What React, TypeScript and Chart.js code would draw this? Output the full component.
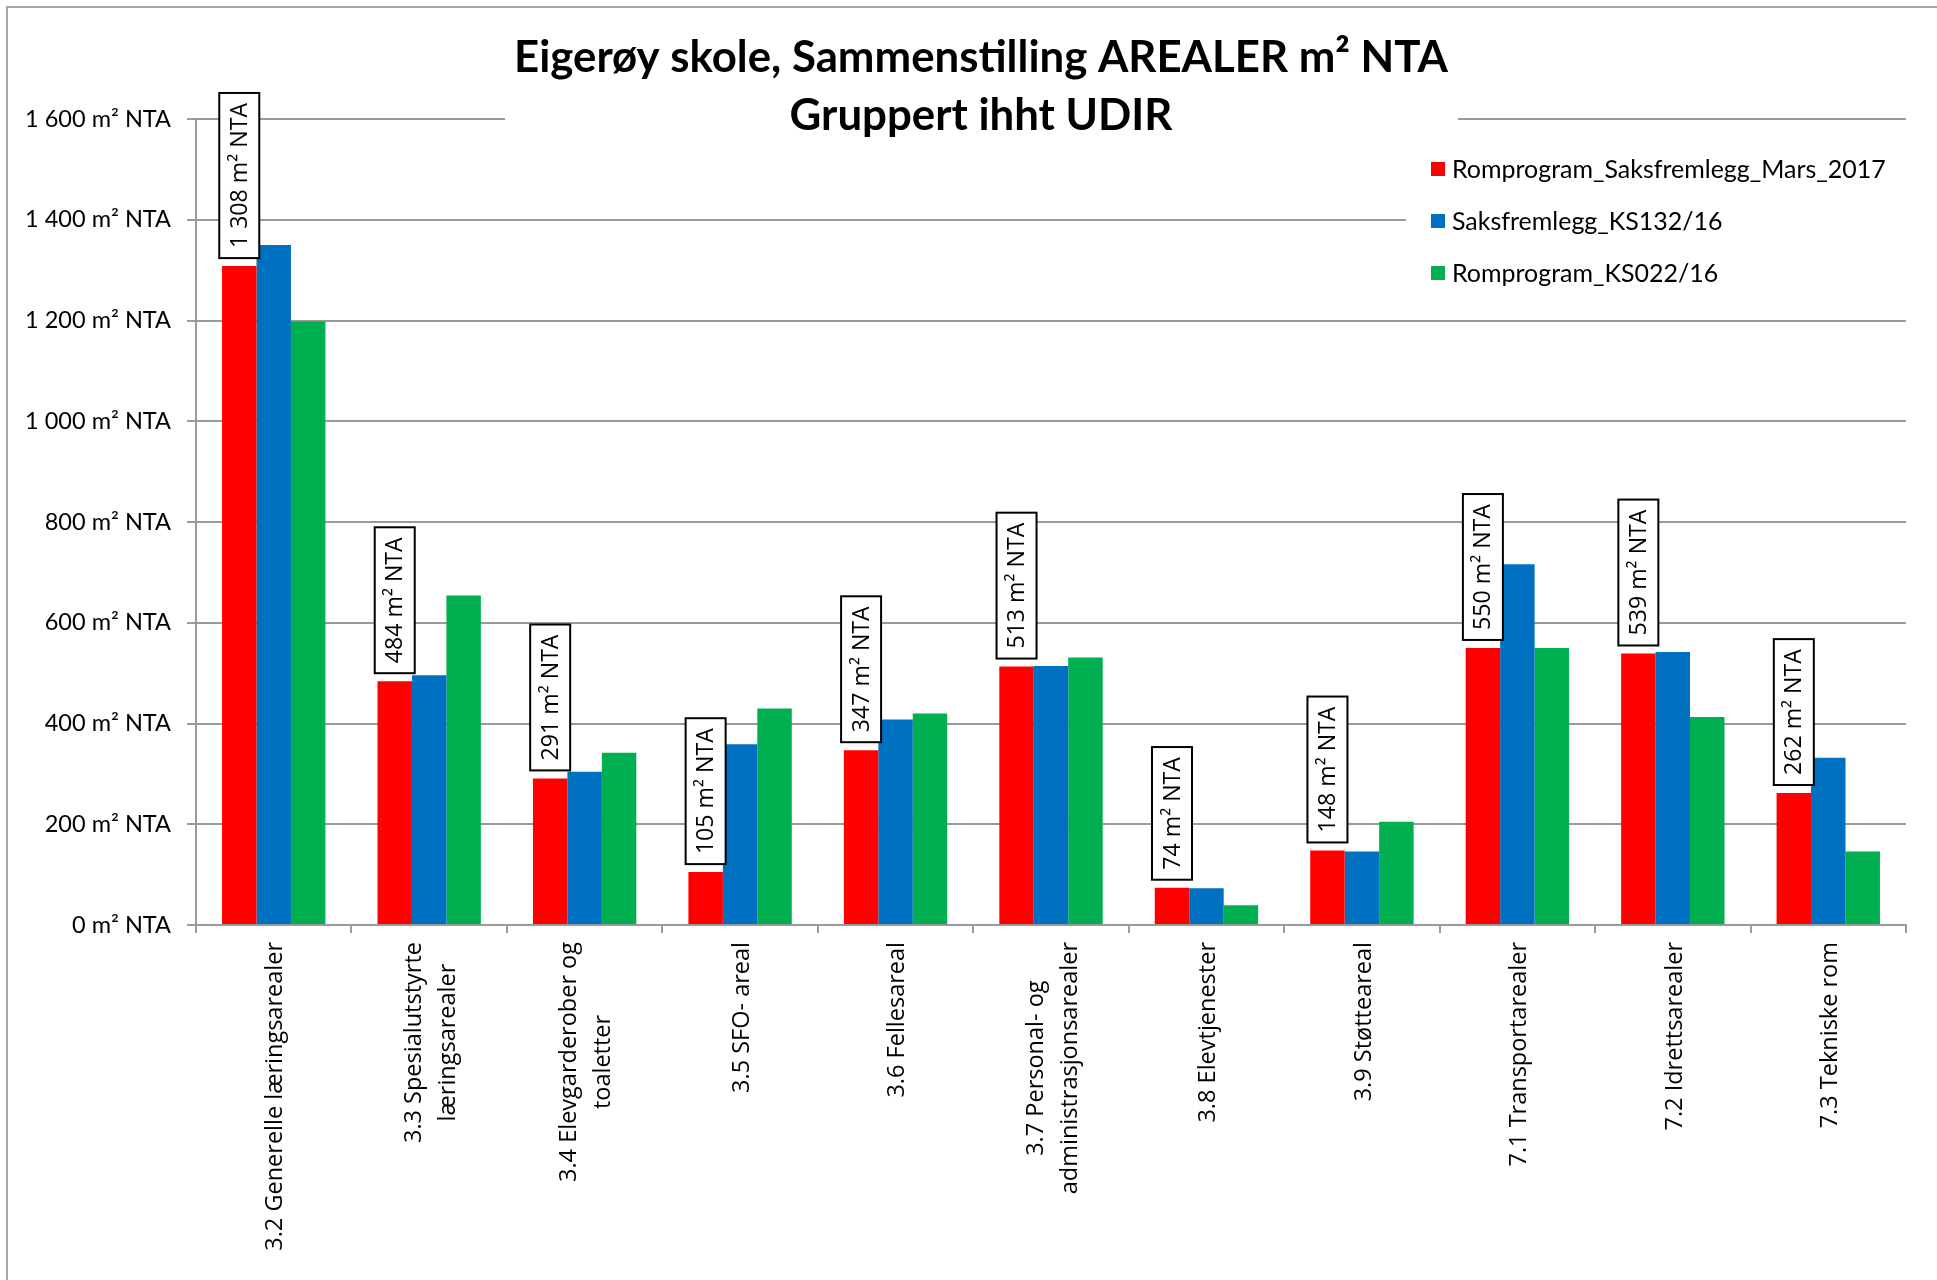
import React, { useEffect, useRef } from "react";
import { Chart, registerables } from "chart.js";

Chart.register(...registerables);

// ---------- data ----------
const CATEGORIES: string[][] = [
  ["3.2 Generelle læringsarealer"],
  ["3.3 Spesialutstyrte", "læringsarealer"],
  ["3.4 Elevgarderober og", "toaletter"],
  ["3.5 SFO- areal"],
  ["3.6 Fellesareal"],
  ["3.7 Personal- og", "administrasjonsarealer"],
  ["3.8 Elevtjenester"],
  ["3.9 Støtteareal"],
  ["7.1 Transportarealer"],
  ["7.2 Idrettsarealer"],
  ["7.3 Tekniske rom"],
];

const SERIES_NAMES = [
  "Romprogram_Saksfremlegg_Mars_2017",
  "Saksfremlegg_KS132/16",
  "Romprogram_KS022/16",
];

const ROMPROGRAM_MARS_2017 = [1308, 484, 291, 105, 347, 513, 74, 148, 550, 539, 262];
const SAKSFREMLEGG_KS132_16 = [1350, 496, 304, 359, 408, 514, 73, 146, 716, 542, 332];
const ROMPROGRAM_KS022_16 = [1198, 654, 342, 430, 420, 531, 39, 205, 550, 413, 146];

const Y_MIN = 0;
const Y_MAX = 1600;
const Y_STEP = 200;

const TITLE_LINES = ["Eigerøy skole, Sammenstilling AREALER m² NTA", "Gruppert ihht UDIR"];

// ---------- styling ----------
const COLORS = ["#FF0000", "#0070C0", "#00B050"];
const W = 1937;
const H = 1280;
const GRID = "#9a9a9a";

const fmt = (v: number) =>
  String(Math.round(v)).replace(/\B(?=(\d{3})+(?!\d))/g, " ") + " m² NTA";

function fitSize(family: string, weight: string, text: string, target: number): number {
  const c = document.createElement("canvas").getContext("2d")!;
  const base = 40;
  c.font = `${weight} ${base}px ${family}`;
  const w = c.measureText(text).width;
  return (base * target) / w;
}

export default function App() {
  const ref = useRef<HTMLCanvasElement | null>(null);

  useEffect(() => {
    if (!ref.current) return;
    const yFont = fitSize("Lato", "normal", "1 600 m² NTA", 146);
    const titleFont = fitSize("Lato", "bold", TITLE_LINES[0], 934);
    const legendFont = fitSize("Lato", "normal", SERIES_NAMES[0], 434);
    const dataFont = fitSize('"Open Sans"', "normal", "484 m² NTA", 126);
    const xFont = fitSize('"Open Sans"', "normal", CATEGORIES[0][0], 309);

    const decor = {
      id: "decor",
      beforeDraw(chart: any) {
        const ctx = chart.ctx as CanvasRenderingContext2D;
        ctx.save();
        ctx.fillStyle = "#fff";
        ctx.fillRect(0, 0, W, H);
        ctx.strokeStyle = "#a6a6a6";
        ctx.lineWidth = 2;
        ctx.beginPath();
        ctx.moveTo(7, H + 5);
        ctx.lineTo(7, 7);
        ctx.lineTo(W + 5, 7);
        ctx.stroke();
        ctx.restore();
      },
      beforeDatasetsDraw(chart: any) {
        const ctx = chart.ctx as CanvasRenderingContext2D;
        ctx.save();
        // title block (covers grid lines)
        ctx.fillStyle = "#fff";
        ctx.fillRect(505, 22, 953, 126);
        ctx.fillStyle = "#000";
        ctx.textAlign = "center";
        ctx.textBaseline = "alphabetic";
        ctx.font = `bold ${titleFont}px Lato`;
        ctx.fillText(TITLE_LINES[0], 981, 72);
        ctx.fillText(TITLE_LINES[1], 981, 130);
        // legend block
        ctx.fillStyle = "#fff";
        ctx.fillRect(1406, 132, W - 1406, 176);
        ctx.font = `${legendFont}px Lato`;
        ctx.textAlign = "left";
        ctx.textBaseline = "middle";
        SERIES_NAMES.forEach((name, i) => {
          const cy = 169 + i * 52;
          ctx.fillStyle = COLORS[i];
          ctx.fillRect(1431, cy - 7, 14, 14);
          ctx.fillStyle = "#000";
          ctx.fillText(name, 1452, cy + 1);
        });
        ctx.restore();
      },
      afterDatasetsDraw(chart: any) {
        const ctx = chart.ctx as CanvasRenderingContext2D;
        ctx.save();
        // data labels on first series
        const meta = chart.getDatasetMeta(0);
        ctx.font = `${dataFont}px "Open Sans"`;
        meta.data.forEach((bar: any, i: number) => {
          const { x, y } = bar.getProps(["x", "y"], true);
          const text = fmt(ROMPROGRAM_MARS_2017[i]);
          const tw = ctx.measureText(text).width;
          const bh = tw + 20;
          const bw = 40;
          const bottom = y - 8;
          ctx.fillStyle = "#fff";
          ctx.fillRect(x - bw / 2, bottom - bh, bw, bh);
          ctx.strokeStyle = "#000";
          ctx.lineWidth = 2;
          ctx.strokeRect(x - bw / 2, bottom - bh, bw, bh);
          ctx.save();
          ctx.translate(x, bottom - bh / 2);
          ctx.rotate(-Math.PI / 2);
          ctx.textAlign = "center";
          ctx.textBaseline = "middle";
          ctx.fillStyle = "#000";
          ctx.fillText(text, 0, 1);
          ctx.restore();
        });
        // category labels (rotated, lines centred)
        const xs = chart.scales.x;
        const top = xs.top + 17;
        ctx.font = `${xFont}px "Open Sans"`;
        ctx.fillStyle = "#000";
        const lh = 34;
        CATEGORIES.forEach((lines, i) => {
          const cx = xs.getPixelForValue(i);
          const bw = Math.max(...lines.map((l) => ctx.measureText(l).width));
          ctx.save();
          ctx.translate(cx + 2, top);
          ctx.rotate(-Math.PI / 2);
          ctx.textAlign = "center";
          ctx.textBaseline = "middle";
          lines.forEach((l, j) => {
            ctx.fillText(l, -bw / 2, (j - (lines.length - 1) / 2) * lh);
          });
          ctx.restore();
        });
        ctx.restore();
      },
    };

    const chart = new Chart(ref.current, {
      type: "bar",
      data: {
        labels: CATEGORIES.map((c) => c.join(" ")),
        datasets: [ROMPROGRAM_MARS_2017, SAKSFREMLEGG_KS132_16, ROMPROGRAM_KS022_16].map(
          (d, i) => ({
            label: SERIES_NAMES[i],
            data: d,
            backgroundColor: COLORS[i],
            borderWidth: 0,
            categoryPercentage: 0.665,
            barPercentage: 1,
          })
        ),
      },
      options: {
        responsive: false,
        animation: false,
        devicePixelRatio: 1,
        layout: { padding: { top: 119, right: 31, left: 0, bottom: 0 } },
        plugins: {
          legend: { display: false },
          title: { display: false },
          tooltip: { enabled: false },
        },
        scales: {
          x: {
            type: "category",
            offset: true,
            grid: {
              offset: true,
              drawOnChartArea: false,
              drawTicks: true,
              tickLength: 8,
              color: GRID,
              lineWidth: 2,
            },
            border: { display: true, color: GRID, width: 2 },
            ticks: { display: false },
            afterFit: (s: any) => {
              s.height = H - 925;
            },
          },
          y: {
            min: Y_MIN,
            max: Y_MAX,
            ticks: {
              stepSize: Y_STEP,
              color: "#000",
              font: { family: "Lato", size: yFont },
              padding: 16,
              callback: (v: any) => fmt(Number(v)),
            },
            grid: { color: GRID, lineWidth: 2, tickLength: 9, drawTicks: true },
            border: { display: true, color: GRID, width: 2 },
            afterFit: (s: any) => {
              s.width = 196;
            },
          },
        },
      },
      plugins: [decor],
    } as any);
    return () => chart.destroy();
  }, []);

  return (
    <div style={{ position: "fixed", left: 0, top: 0, width: W, height: H, background: "#fff" }}>
      <canvas ref={ref} width={W} height={H} style={{ display: "block", width: W, height: H }} />
    </div>
  );
}
